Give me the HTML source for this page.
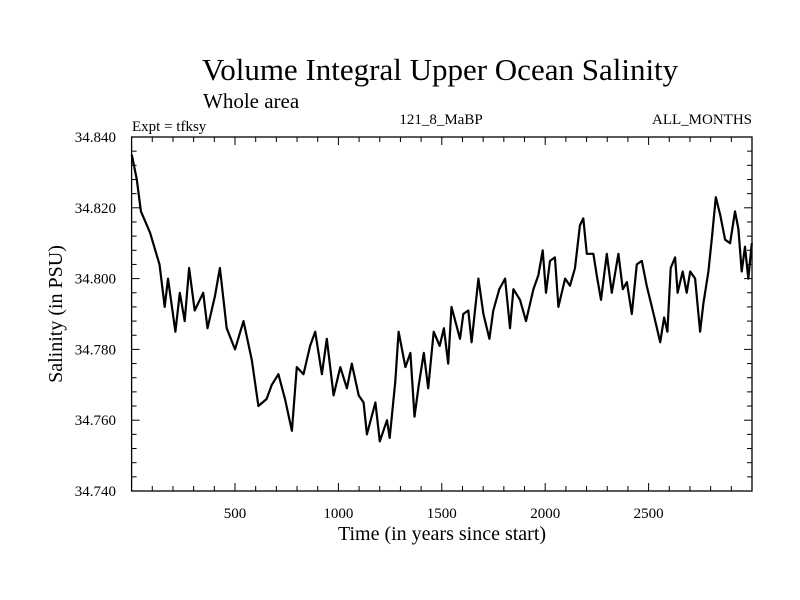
<!DOCTYPE html>
<html><head><meta charset="utf-8"><style>
body{margin:0;background:#fff}
svg{display:block;font-family:"Liberation Serif",serif}
</style></head><body>
<svg id="chart" width="800" height="600">
<text x="440" y="80" font-size="31" text-anchor="middle">Volume Integral Upper Ocean Salinity</text>
<text x="203" y="108" font-size="21">Whole area</text>
<text x="132" y="131" font-size="15">Expt = tfksy</text>
<text x="441" y="124" font-size="15" text-anchor="middle">121_8_MaBP</text>
<text x="752" y="124" font-size="15" text-anchor="end">ALL_MONTHS</text>
<text x="442" y="540" font-size="20" text-anchor="middle">Time (in years since start)</text>
<text transform="translate(62,314) rotate(-90)" font-size="20" text-anchor="middle">Salinity (in PSU)</text>
<g id="axes"></g>
<g id="series"></g>
</svg>
<script>
const years=[1,25,45,89,135,160,176,212,233,257,278,305,346,367,403,427,460,500,541,581,613,653,678,710,742,775,799,831,863,888,920,944,977,1009,1041,1065,1098,1122,1138,1179,1200,1235,1248,1275,1291,1324,1348,1368,1389,1413,1434,1461,1490,1510,1531,1547,1588,1604,1628,1644,1677,1701,1730,1749,1778,1806,1830,1846,1878,1907,1943,1967,1988,2004,2023,2047,2064,2096,2120,2144,2168,2184,2201,2233,2249,2270,2298,2322,2354,2375,2395,2419,2443,2467,2491,2524,2556,2575,2591,2607,2628,2640,2665,2684,2701,2725,2749,2765,2789,2805,2825,2846,2870,2894,2918,2934,2950,2966,2982,2999];
const salinity=[34.835,34.828,34.819,34.813,34.804,34.792,34.800,34.785,34.796,34.788,34.803,34.791,34.796,34.786,34.795,34.803,34.786,34.780,34.788,34.777,34.764,34.766,34.770,34.773,34.766,34.757,34.775,34.773,34.781,34.785,34.773,34.783,34.767,34.775,34.769,34.776,34.767,34.765,34.756,34.765,34.754,34.760,34.755,34.771,34.785,34.775,34.779,34.761,34.770,34.779,34.769,34.785,34.781,34.786,34.776,34.792,34.783,34.790,34.791,34.782,34.800,34.790,34.783,34.791,34.797,34.800,34.786,34.797,34.794,34.788,34.797,34.801,34.808,34.796,34.805,34.806,34.792,34.800,34.798,34.803,34.815,34.817,34.807,34.807,34.801,34.794,34.807,34.796,34.807,34.797,34.799,34.790,34.804,34.805,34.798,34.790,34.782,34.789,34.785,34.803,34.806,34.796,34.802,34.796,34.802,34.800,34.785,34.793,34.802,34.811,34.823,34.818,34.811,34.810,34.819,34.814,34.802,34.809,34.800,34.810];
const xTicks=[500,1000,1500,2000,2500];
const yTicks=[34.74,34.76,34.78,34.80,34.82,34.84];
const yTickLabels=["34.740","34.760","34.780","34.800","34.820","34.840"];
const L=131.6,R=752,T=137,B=491,X0=0,X1=3000,Y0=34.74,Y1=34.84;
const sx=v=>L+(v-X0)/(X1-X0)*(R-L);
const sy=v=>B-(v-Y0)/(Y1-Y0)*(B-T);
const NS="http://www.w3.org/2000/svg";
const axes=document.getElementById('axes'),ser=document.getElementById('series');
function mk(tag,at,parent){const e=document.createElementNS(NS,tag);for(const k in at)e.setAttribute(k,at[k]);parent.appendChild(e);return e;}
const frame=mk('rect',{x:L,y:T,width:R-L,height:B-T,fill:'none',stroke:'#000','stroke-width':1.3},axes);


for(let v=100;v<3000;v+=100){const major=v%500===0;const len=major?8:5;
 mk('line',{x1:sx(v),x2:sx(v),y1:B,y2:B-len,stroke:'#000'},axes);
 mk('line',{x1:sx(v),x2:sx(v),y1:T,y2:T+len,stroke:'#000'},axes);}
for(let i=1;i<25;i++){const v=Y0+i*0.004;const major=i%5===0;const len=major?8:5;
 mk('line',{x1:L,x2:L+len,y1:sy(v),y2:sy(v),stroke:'#000'},axes);
 mk('line',{x1:R,x2:R-len,y1:sy(v),y2:sy(v),stroke:'#000'},axes);}
xTicks.forEach(v=>{const t=mk('text',{x:sx(v),y:518,'font-size':15,'text-anchor':'middle'},axes);t.textContent=v;
 
 });
yTicks.forEach((v,i)=>{const t=mk('text',{x:116,y:sy(v)+5,'font-size':15,'text-anchor':'end'},axes);t.textContent=yTickLabels[i];
 
 });
const d=years.map((y,i)=>(i?'L':'M')+sx(y).toFixed(1)+','+sy(salinity[i]).toFixed(1)).join('');
const p=mk('path',{d:d,fill:'none',stroke:'#000','stroke-width':2.2,'stroke-linejoin':'round'},ser);


</script>
</body></html>
